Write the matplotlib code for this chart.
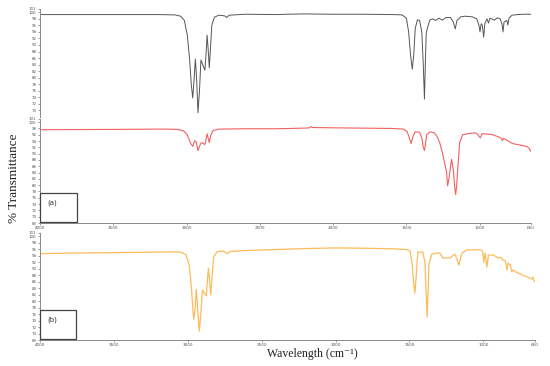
import numpy as np
import matplotlib
matplotlib.use('Agg')
import matplotlib.pyplot as plt
from matplotlib.patches import Rectangle

# 光谱数据（从图上读出的点）
black_wn = [4000, 3600, 3200, 3080, 3040, 3015, 2995, 2980, 2968, 2958, 2948, 2940, 2932, 2922, 2912,
            2902, 2890, 2875, 2866, 2860, 2853, 2845, 2838, 2828, 2810, 2780, 2740, 2725, 2710, 2600,
            2400, 2200, 2000, 1800, 1600, 1530, 1500, 1485, 1472, 1460, 1450, 1440, 1425, 1410, 1395,
            1385, 1377, 1370, 1365, 1355, 1340, 1320, 1300, 1280, 1255, 1230, 1200, 1180, 1167, 1155,
            1130, 1100, 1050, 1020, 1005, 998, 990, 982, 973, 965, 950, 940, 930, 900, 880, 860, 848,
            841, 834, 815, 808, 800, 780, 740, 700, 650]
black_t = [99.3, 99.3, 99.3, 99.2, 98.8, 97.5, 93.0, 86.0, 78.0, 73.8, 80.0, 85.7, 80.0, 69.3, 76.0,
           85.4, 84.0, 82.3, 88.0, 93.0, 89.0, 83.0, 88.0, 96.0, 98.5, 99.1, 98.9, 98.4, 99.1, 99.4,
           99.3, 99.5, 99.4, 99.4, 99.3, 99.2, 98.2, 94.0, 87.0, 82.6, 87.0, 95.0, 97.7, 97.5, 94.0,
           84.0, 73.5, 86.0, 93.6, 95.5, 97.6, 98.0, 97.5, 98.2, 97.6, 98.4, 98.4, 97.0, 94.9, 97.5,
           98.6, 98.8, 98.6, 98.0, 96.0, 94.0, 96.5, 96.0, 92.4, 96.5, 98.0, 96.7, 98.2, 97.6, 98.3, 98.0, 96.5,
           94.0, 97.0, 97.5, 96.1, 98.2, 99.1, 99.3, 99.4, 99.4]

red_wn = [4000, 3500, 3150, 3060, 3020, 2995, 2975, 2958, 2945, 2935, 2922, 2910, 2900, 2885, 2875,
          2865, 2860, 2850, 2845, 2835, 2820, 2780, 2600, 2400, 2200, 2160, 2150, 2140, 2000, 1800,
          1600, 1520, 1495, 1480, 1468, 1455, 1440, 1410, 1395, 1385, 1377, 1370, 1362, 1340, 1310,
          1290, 1273, 1253, 1226, 1219, 1210, 1192, 1180, 1170, 1164, 1157, 1150, 1137, 1116, 1085,
          1040, 1021, 1005, 995, 985, 967, 912, 870, 851, 845, 838, 776, 700, 680, 665, 650]
red_t = [97.6, 97.7, 97.8, 97.7, 97.2, 96.0, 93.5, 92.3, 94.1, 93.8, 91.0, 92.5, 93.5, 93.2, 92.9,
         95.0, 96.3, 94.5, 93.5, 95.8, 97.3, 97.8, 97.9, 97.9, 98.1, 98.2, 98.6, 98.3, 98.2, 98.1,
         98.0, 97.8, 97.0, 95.0, 93.2, 95.5, 96.9, 96.8, 95.0, 92.0, 91.0, 93.0, 96.0, 96.9, 96.6,
         95.4, 93.5, 90.0, 84.1, 79.8, 82.0, 88.2, 85.0, 79.0, 77.0, 80.0, 85.0, 93.5, 96.0, 96.3,
         96.6, 96.5, 95.5, 95.0, 96.3, 96.3, 96.0, 95.3, 94.8, 94.1, 94.9, 93.2, 92.5, 92.3, 91.8, 90.7]

orange_wn = [4000, 3800, 3600, 3400, 3200, 3080, 3040, 3010, 2990, 2975, 2965, 2958, 2950, 2943, 2935,
             2922, 2912, 2900, 2888, 2875, 2868, 2860, 2852, 2845, 2838, 2825, 2800, 2760, 2730, 2715,
             2600, 2400, 2200, 2000, 1800, 1600, 1520, 1495, 1480, 1472, 1463, 1455, 1443, 1409, 1395,
             1388, 1380, 1372, 1368, 1348, 1314, 1294, 1273, 1226, 1192, 1175, 1165, 1155, 1144, 1110,
             1022, 1005, 997, 988, 976, 965, 930, 901, 880, 867, 850, 840, 833, 818, 807, 800, 780, 732,
             690, 671, 664, 658, 650]
orange_t = [94.6, 94.8, 94.9, 95.0, 95.1, 95.2, 95.0, 94.2, 91.0, 84.0, 77.0, 74.4, 78.0, 83.6, 79.0,
            70.7, 76.0, 83.4, 82.5, 81.6, 86.0, 90.2, 86.0, 81.9, 86.0, 93.6, 95.3, 95.4, 94.6, 95.3,
            95.6, 95.9, 96.2, 96.4, 96.3, 96.1, 95.9, 95.4, 91.0, 86.0, 82.5, 87.0, 95.1, 95.1, 92.0,
            84.0, 75.1, 85.0, 91.4, 94.5, 94.8, 94.8, 93.3, 93.3, 94.5, 92.5, 91.1, 93.0, 94.8, 95.8,
            95.8, 95.5, 92.0, 94.8, 90.5, 94.2, 94.2, 93.3, 93.5, 92.7, 92.3, 89.6, 91.7, 91.2, 89.0, 89.6, 89.0, 88.0,
            87.2, 86.8, 87.4, 86.4, 85.9]

x_ticks = [4000, 3500, 3000, 2500, 2000, 1500, 1000, 650]
y_ticks = [68, 70, 72, 74, 76, 78, 80, 82, 84, 86, 88, 90, 92, 94, 96, 98, 100, 101]

W, H = 550, 366
fig = plt.figure(figsize=(5.5, 3.66), dpi=100)

axis_color = '#8a8a8a'


def setup(ax, show_x, yt):
    ax.set_xlim(4000, 650)
    ax.set_ylim(68, 101)
    ax.set_yticks(yt)
    ax.set_yticklabels([str(v) for v in yt])
    for s in ['top', 'right']:
        ax.spines[s].set_visible(False)
    ax.spines['left'].set_color(axis_color)
    ax.spines['left'].set_linewidth(0.7)
    ax.tick_params(axis='y', labelsize=2.8, length=1.5, width=0.4, pad=1, colors='#555555')
    if show_x:
        ax.set_xticks(x_ticks)
        ax.set_xticklabels([str(v) for v in x_ticks])
        ax.spines['bottom'].set_color(axis_color)
        ax.spines['bottom'].set_linewidth(0.7)
        ax.tick_params(axis='x', labelsize=3, length=1.5, width=0.4, pad=1, colors='#555555')
    else:
        ax.spines['bottom'].set_visible(False)
        ax.set_xticks([])
    ax.patch.set_alpha(0)


# 上面两条 (a)
ax1 = fig.add_axes([40 / W, 1 - 117 / H, 491 / W, 108 / H])
ax1.plot(black_wn, black_t, color='#555555', lw=0.7)
setup(ax1, False, y_ticks[1:])   # 最下面的68和红色的101挤在一起，去掉

ax2 = fig.add_axes([40 / W, 1 - 223 / H, 491 / W, 104 / H])
ax2.plot(red_wn, red_t, color='#f26060', lw=0.8)
setup(ax2, True, y_ticks)

# 下面一条 (b)
ax3 = fig.add_axes([40 / W, 1 - 340 / H, 495 / W, 107 / H])
ax3.plot(orange_wn, orange_t, color='#fdbb5a', lw=0.9)
setup(ax3, True, y_ticks)

# 小方框标签
fig.add_artist(Rectangle((40 / W, 1 - 222 / H), 37 / W, 29 / H, transform=fig.transFigure,
                         fill=False, edgecolor='#444444', lw=0.9))
fig.text(47 / W, 1 - 203 / H, '(a)', fontsize=5, color='#333333', va='center')
fig.add_artist(Rectangle((40 / W, 1 - 339 / H), 36 / W, 29 / H, transform=fig.transFigure,
                         fill=False, edgecolor='#444444', lw=0.9))
fig.text(47 / W, 1 - 320 / H, '(b)', fontsize=5, color='#333333', va='center')

# 坐标轴标题
fig.text(14 / W, 1 - 178 / H, '% Transmittance', rotation=90, fontsize=9.5,
         family=['Liberation Serif', 'DejaVu Serif'], ha='center', va='center', color='#222222')
fig.text(312 / W, 1 - 354 / H, 'Wavelength (cm\u207b\u00b9)', fontsize=8.5,
         family=['Liberation Serif', 'DejaVu Serif'], ha='center', va='center', color='#222222')

plt.savefig('out.png', dpi=100)
